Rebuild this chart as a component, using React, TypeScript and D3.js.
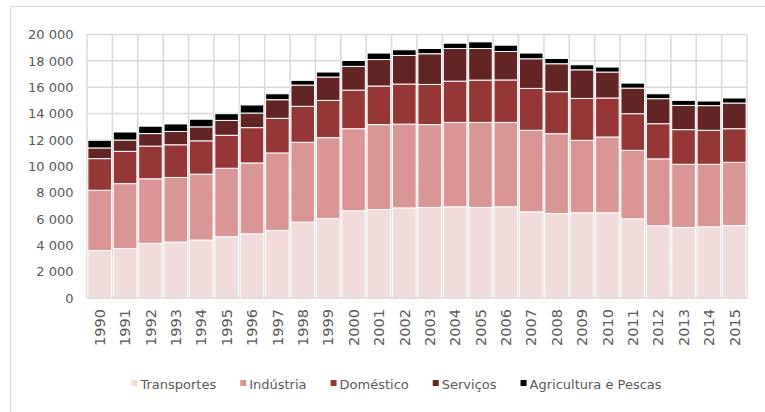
import React, { useEffect, useRef } from "react";
import * as d3 from "d3";

const years = ["1990","1991","1992","1993","1994","1995","1996","1997","1998","1999","2000","2001","2002","2003","2004","2005","2006","2007","2008","2009","2010","2011","2012","2013","2014","2015"];
const transportes = [3600,3750,4150,4250,4400,4650,4870,5130,5760,6040,6620,6720,6840,6870,6920,6870,6920,6540,6410,6470,6470,6010,5480,5350,5400,5500];
const industria = [4580,4930,4900,4900,5000,5200,5380,5880,6060,6130,6230,6440,6360,6290,6410,6460,6410,6190,6060,5500,5750,5200,5080,4800,4750,4800];
const domestico = [2400,2450,2480,2480,2530,2500,2680,2630,2730,2830,2930,2930,3040,3050,3130,3210,3220,3180,3190,3180,2960,2780,2670,2630,2580,2550];
const servicos = [810,860,950,1010,1060,1130,1110,1410,1610,1770,1800,2010,2170,2330,2480,2400,2160,2250,2120,2170,1970,1940,1900,1840,1870,1950];
const agricultura = [580,610,560,570,580,510,610,450,360,380,450,490,430,400,400,500,480,430,400,380,380,380,370,380,350,380];
const seriesNames = ["Transportes","Indústria","Doméstico","Serviços","Agricultura e Pescas"];
const seriesColors = ["#f2dcdb","#d99694","#953735","#632523","#000000"];
const yTicks = [0,2000,4000,6000,8000,10000,12000,14000,16000,18000,20000];

const W = 765, H = 412;

export default function App() {
  const ref = useRef<SVGSVGElement>(null);
  useEffect(() => {
    document.body.style.margin = "0";
    const svg = d3.select(ref.current);
    svg.selectAll("*").remove();
    const font = "Verdana, 'DejaVu Sans', sans-serif";
    const grey = "#595959";
    const gridC = "#d9d9d9";

    // frame
    svg.append("rect").attr("x", 10.5).attr("y", 6.5).attr("width", 900).attr("height", 600)
      .attr("fill", "none").attr("stroke", gridC).attr("stroke-width", 1.2);

    const left = 87, right = 747, top = 34.5, bottom = 298;
    const x = d3.scaleBand<string>().domain(years).range([left, right]).padding(0);
    const y = d3.scaleLinear().domain([0, 20000]).range([bottom, top]);

    const g = svg.append("g");
    // horizontal grid
    g.selectAll("line.h").data(yTicks).enter().append("line")
      .attr("x1", left).attr("x2", right)
      .attr("y1", d => y(d)).attr("y2", d => y(d))
      .attr("stroke", gridC).attr("stroke-width", 1.5);
    // vertical grid at band boundaries
    const bounds = years.map(yr => x(yr) as number).concat([right]);
    g.selectAll("line.v").data(bounds).enter().append("line")
      .attr("x1", d => d).attr("x2", d => d)
      .attr("y1", top).attr("y2", bottom)
      .attr("stroke", gridC).attr("stroke-width", 1.5);

    // stacked data
    const rows = years.map((yr, i) => ({
      year: yr,
      Transportes: transportes[i],
      "Indústria": industria[i],
      "Doméstico": domestico[i],
      "Serviços": servicos[i],
      "Agricultura e Pescas": agricultura[i],
    }));
    const stack = d3.stack<any>().keys(seriesNames)(rows);
    const bw = x.bandwidth();
    stack.forEach((layer, li) => {
      g.selectAll(null).data(layer).enter().append("rect")
        .attr("x", (d: any) => (x(d.data.year) as number) + 0.9)
        .attr("width", bw - 1.8)
        .attr("y", (d: any) => y(d[1]))
        .attr("height", (d: any) => y(d[0]) - y(d[1]))
        .attr("fill", seriesColors[li])
        .attr("stroke", "#ffffff").attr("stroke-width", 1);
    });

    // bottom axis line
    g.append("line").attr("x1", left).attr("x2", right).attr("y1", bottom).attr("y2", bottom)
      .attr("stroke", gridC).attr("stroke-width", 1.5);

    // y labels
    const fmt = (v: number) => d3.format(",")(v).replace(/,/g, " ");
    svg.selectAll("text.yl").data(yTicks).enter().append("text")
      .attr("x", 73.5).attr("y", d => y(d)).attr("dy", "0.36em")
      .attr("text-anchor", "end").attr("font-family", font).attr("font-size", 13)
      .attr("fill", grey).text(d => fmt(d));

    // x labels
    svg.selectAll("text.xl").data(years).enter().append("text")
      .attr("transform", d => `translate(${(x(d) as number) + bw / 2},309) rotate(-90)`)
      .attr("dy", "0.36em")
      .attr("text-anchor", "end").attr("font-family", font).attr("font-size", 14.5)
      .attr("fill", grey).text(d => d);

    // legend
    const lg = svg.append("g");
    const items = seriesNames.map((n, i) => {
      const it = lg.append("g");
      it.append("rect").attr("width", 6).attr("height", 6).attr("y", 380).attr("fill", seriesColors[i]);
      const t = it.append("text").attr("x", 9).attr("y", 384).attr("dy", "0.36em")
        .attr("font-family", font).attr("font-size", 13).attr("fill", grey).text(n);
      const w = 9 + (t.node() as SVGTextElement).getComputedTextLength();
      return { it, w };
    });
    const gap = 24;
    const total = items.reduce((s, d) => s + d.w, 0) + gap * (items.length - 1);
    let cx = 396.5 - total / 2;
    items.forEach(d => {
      d.it.attr("transform", `translate(${cx},0)`);
      cx += d.w + gap;
    });
  }, []);
  return <svg ref={ref} width={W} height={H} style={{ display: "block", background: "#fff" }} />;
}
